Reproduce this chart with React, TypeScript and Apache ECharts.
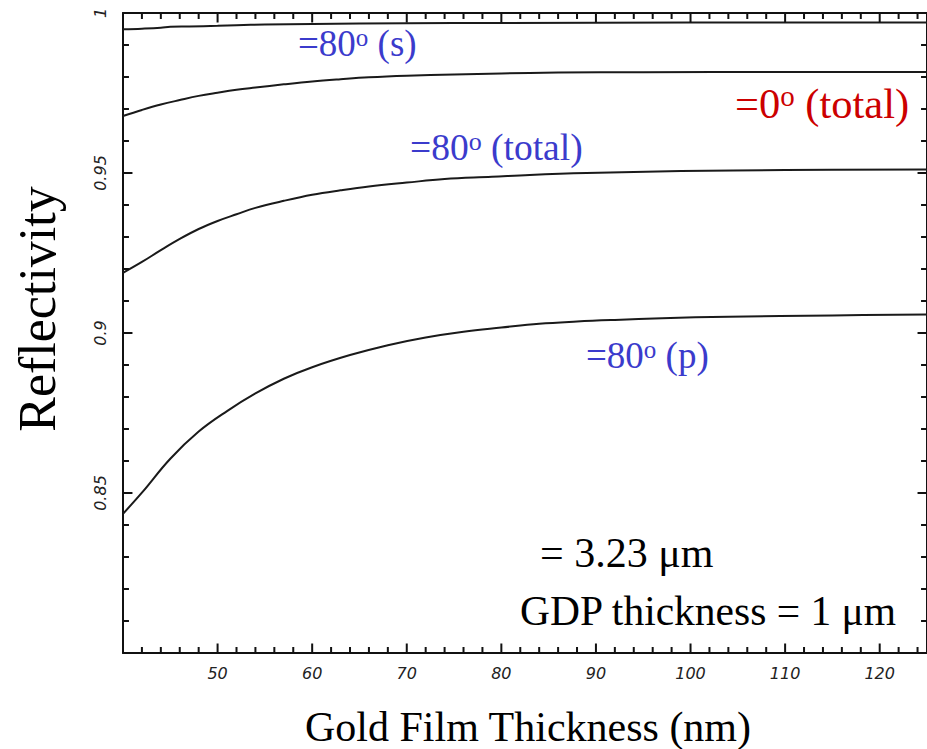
import React, { useEffect, useRef } from "react";
import * as echarts from "echarts";

// Gold film thickness (nm) and reflectivity for each curve
const sThick = [40, 42, 44, 45, 47, 50, 52, 55, 60, 70, 80, 100, 125];
const sRefl = [0.9949, 0.9951, 0.9954, 0.9957, 0.9958, 0.996, 0.9962, 0.9964, 0.9966, 0.9968, 0.9969, 0.997, 0.997];

const zeroThick = [40, 42, 44, 46, 48, 50, 52, 54, 57, 60, 63, 66, 70, 75, 80, 86, 95, 110, 125];
const zeroRefl = [0.9678, 0.9697, 0.9714, 0.9728, 0.9741, 0.9751, 0.976, 0.9767, 0.9777, 0.9786, 0.9793, 0.9799, 0.9804, 0.9808, 0.9811, 0.9814, 0.9815, 0.9816, 0.9816];

const totThick = [40, 42, 44, 46, 48, 50, 52, 54, 57, 60, 63, 66, 70, 74, 79, 83, 89, 99, 110, 125];
const totRefl = [0.9188, 0.9222, 0.9259, 0.9294, 0.9325, 0.935, 0.9371, 0.9391, 0.9413, 0.9432, 0.9446, 0.9458, 0.947, 0.9481, 0.9488, 0.9494, 0.95, 0.9506, 0.9509, 0.9511];

const pThick = [40, 42, 45, 48, 51, 54, 57, 60, 64, 68, 72, 76, 80, 84, 88, 92, 97, 104, 115, 125];
const pRefl = [0.8435, 0.8501, 0.8607, 0.8692, 0.8756, 0.8811, 0.8857, 0.8893, 0.8931, 0.8962, 0.8986, 0.9004, 0.9017, 0.9029, 0.9036, 0.9041, 0.9046, 0.9051, 0.9055, 0.9058];

// Axis ranges and tick marks (drawn inward on all four sides)
const xMin = 40;
const xMax = 125;
const xInterval = 10;
const yMin = 0.8;
const yMax = 1;
const yInterval = 0.05;
const xMajorTicks = [50, 60, 70, 80, 90, 100, 110, 120];
const xMinorTicks = [42, 44, 46, 48, 52, 54, 56, 58, 62, 64, 66, 68, 72, 74, 76, 78, 82, 84, 86, 88, 92, 94, 96, 98, 102, 104, 106, 108, 112, 114, 116, 118, 122, 124];
const yMajorTicks = [0.85, 0.9, 0.95];
const yMinorTicks = [0.81, 0.82, 0.83, 0.84, 0.86, 0.87, 0.88, 0.89, 0.91, 0.92, 0.93, 0.94, 0.96, 0.97, 0.98, 0.99];

const xTitle = "Gold Film Thickness (nm)";
const yTitle = "Reflectivity";

const pairs = (xs: number[], ys: number[]) => xs.map((x, i) => [x, ys[i]]);

const SERIF = '"Liberation Serif", "Times New Roman", serif';
const BLUE = "#3b3bcc";
const RED = "#cc0000";
const INK = "#111";

// tick lengths in axis units: vertical ticks (y units) and horizontal ticks (x units)
const V_MAJOR = 0.003;
const V_MINOR = 0.0019;
const H_MAJOR = 1.0;
const H_MINOR = 0.63;

function label(x: number, y: number, main: string, rest: string, size: number, color: string) {
  return {
    type: "text",
    x,
    y,
    style: {
      text: `{m|${main}}{s|o}{m|${rest}}`,
      align: "left",
      verticalAlign: "middle",
      fill: color,
      rich: {
        m: { fontSize: size, fontFamily: SERIF, fill: color },
        s: { fontSize: Math.round(size * 0.68), fontFamily: SERIF, fill: color, verticalAlign: "top" },
      },
    },
  };
}

function makeAxis(kind: "x" | "y", secondary: boolean) {
  const isX = kind === "x";
  return {
    type: "value",
    position: isX ? (secondary ? "top" : "bottom") : secondary ? "right" : "left",
    min: isX ? xMin : yMin,
    max: isX ? xMax : yMax,
    interval: isX ? xInterval : yInterval,
    axisLine: { show: true, onZero: false, lineStyle: { color: INK, width: 2 } },
    axisTick: { show: false },
    minorTick: { show: false },
    splitLine: { show: false },
    axisLabel: secondary
      ? { show: false }
      : {
          show: true,
          fontFamily: '"DejaVu Sans", sans-serif',
          fontStyle: "italic",
          fontSize: 16,
          color: "#222",
          margin: isX ? 12 : 15,
          rotate: isX ? 0 : 90,
          showMinLabel: false,
          showMaxLabel: isX ? false : true,
          formatter: (v: number) => String(Number(v.toFixed(2))),
        },
  };
}

function xTickData(values: number[], len: number) {
  const out: any[] = [];
  values.forEach((v) => {
    out.push([v, yMin], [v, yMin + len], "-", [v, yMax], [v, yMax - len], "-");
  });
  return out;
}

function yTickData(values: number[], len: number) {
  const out: any[] = [];
  values.forEach((v) => {
    out.push([xMin, v], [xMin + len, v], "-", [xMax, v], [xMax - len, v], "-");
  });
  return out;
}

function tickSeries(data: any[]) {
  return {
    type: "line",
    data,
    showSymbol: false,
    connectNulls: false,
    clip: false,
    silent: true,
    z: 3,
    lineStyle: { color: INK, width: 2 },
  };
}

export default function App() {
  const ref = useRef<HTMLDivElement>(null);
  useEffect(() => {
    if (!ref.current) return;
    document.body.style.overflow = "hidden";
    const chart = echarts.init(ref.current, null, { renderer: "svg" });
    const line = (data: number[][]) => ({
      type: "line",
      data,
      showSymbol: false,
      smooth: 0.4,
      lineStyle: { color: "#1a1a1a", width: 2 },
    });
    chart.setOption({
      animation: false,
      grid: { left: 123, top: 13, right: -5, bottom: 96 },
      xAxis: [makeAxis("x", false), makeAxis("x", true)],
      yAxis: [makeAxis("y", false), makeAxis("y", true)],
      series: [
        line(pairs(sThick, sRefl)),
        line(pairs(zeroThick, zeroRefl)),
        line(pairs(totThick, totRefl)),
        line(pairs(pThick, pRefl)),
        tickSeries(xTickData(xMajorTicks, V_MAJOR)),
        tickSeries(xTickData(xMinorTicks, V_MINOR)),
        tickSeries(yTickData(yMajorTicks, H_MAJOR)),
        tickSeries(yTickData(yMinorTicks, H_MINOR)),
      ],
      graphic: [
        label(298, 43, "=80", " (s)", 37, BLUE),
        label(735, 103, "=0", " (total)", 42.5, RED),
        label(410, 147, "=80", " (total)", 37.5, BLUE),
        label(586, 355, "=80", " (p)", 37, BLUE),
        {
          type: "text",
          x: 540,
          y: 553,
          style: { text: "= 3.23 μm", font: `42px ${SERIF}`, fill: "#000", align: "left", verticalAlign: "middle" },
        },
        {
          type: "text",
          x: 520,
          y: 611,
          style: { text: "GDP thickness = 1 μm", font: `41.5px ${SERIF}`, fill: "#000", align: "left", verticalAlign: "middle" },
        },
        {
          type: "text",
          x: 528,
          y: 727,
          style: { text: xTitle, font: `42px ${SERIF}`, fill: "#000", align: "center", verticalAlign: "middle" },
        },
        {
          type: "text",
          x: 37,
          y: 309,
          rotation: Math.PI / 2,
          style: { text: yTitle, font: `52px ${SERIF}`, fill: "#000", align: "center", verticalAlign: "middle" },
        },
      ],
    });
    return () => chart.dispose();
  }, []);
  return (
    <div
      ref={ref}
      style={{ position: "fixed", left: 0, top: 0, width: 927, height: 749, background: "#fff" }}
    />
  );
}
